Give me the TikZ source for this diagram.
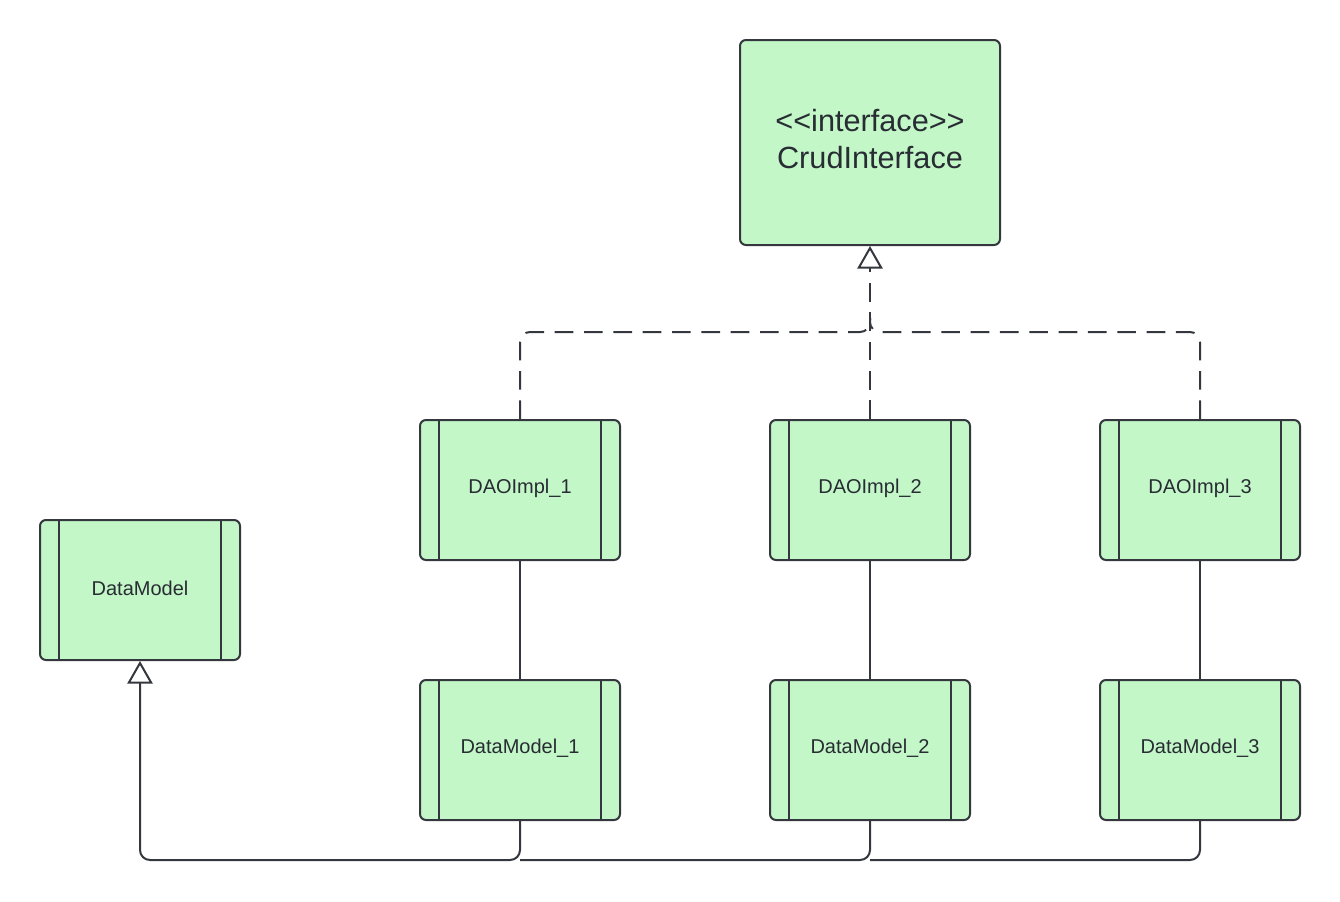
\documentclass[tikz,border=0pt]{standalone}
\usepackage{fontspec}
\setmainfont{Liberation Sans}
\usetikzlibrary{arrows.meta}
\definecolor{lc}{RGB}{52,56,62}
\definecolor{fillc}{RGB}{195,247,200}
\definecolor{tc}{RGB}{40,44,51}
\newcommand{\up}[1]{\raisebox{1.5pt}[\height][\depth]{#1}}
\newcommand{\upbig}[1]{\raisebox{2.25pt}[\height][\depth]{#1}}
\begin{document}
\begin{tikzpicture}[x=0.75pt,y=-0.75pt,
  cls/.style={draw=lc, fill=fillc, line width=1.5pt, rounded corners=4.5pt, minimum width=150pt, minimum height=105pt, inner sep=0pt, text=tc, font=\fontsize{15}{18}\selectfont},
  iface/.style={draw=lc, fill=fillc, line width=1.5pt, rounded corners=4.5pt, minimum width=195pt, minimum height=153.75pt, inner sep=0pt, text=tc, align=center, font=\fontsize{23}{27.75}\selectfont},
  bar/.style={draw=lc, line width=1.5pt},
  link/.style={draw=lc, line width=1.5pt, rounded corners=7.5pt},
  dep/.style={link, dash pattern=on 14pt off 8pt},
  tri/.style={-{Triangle[length=17pt,width=19pt,fill=white,line width=1.5pt]}}
]
\useasboundingbox (0,0) rectangle (1340,901);
\newcommand{\sidebars}[1]{%
  \draw[bar] ([xshift=15pt]#1.north west) -- ([xshift=15pt]#1.south west);
  \draw[bar] ([xshift=-15pt]#1.north east) -- ([xshift=-15pt]#1.south east);}

\node[iface] (ci) at (870,142.5) {\upbig{<\kern0pt<interface>\kern0pt>}\\\upbig{CrudInterface}};

\node[cls] (d1) at (520,490) {\up{DAOImpl\_1}};
\node[cls] (d2) at (870,490) {\up{DAOImpl\_2}};
\node[cls] (d3) at (1200,490) {\up{DAOImpl\_3}};
\node[cls] (m1) at (520,750) {\up{DataModel\_1}};
\node[cls] (m2) at (870,750) {\up{DataModel\_2}};
\node[cls] (m3) at (1200,750) {\up{DataModel\_3}};
\node[cls] (dm) at (140,590) {\up{DataModel}};
\foreach \n in {d1,d2,d3,m1,m2,m3,dm} {\sidebars{\n}}

\coordinate (j) at (870,332);
\coordinate (b) at (140,860);

% realization (dashed)
\draw[dep, tri] (d2.north) -- (ci.south);
\draw[dep] (d1.north) |- (j) -- ++(0,-14);
\draw[dep] (d3.north) |- (j) -- ++(0,-14);

% associations
\draw[link] (d1.south) -- (m1.north);
\draw[link] (d2.south) -- (m2.north);
\draw[link] (d3.south) -- (m3.north);

% generalization to DataModel
\draw[link, tri] (m1.south) |- (b) -- (dm.south);
\draw[link] (m2.south) |- (m1.south |- b);
\draw[link] (m3.south) |- (m2.south |- b);
\end{tikzpicture}
\end{document}
